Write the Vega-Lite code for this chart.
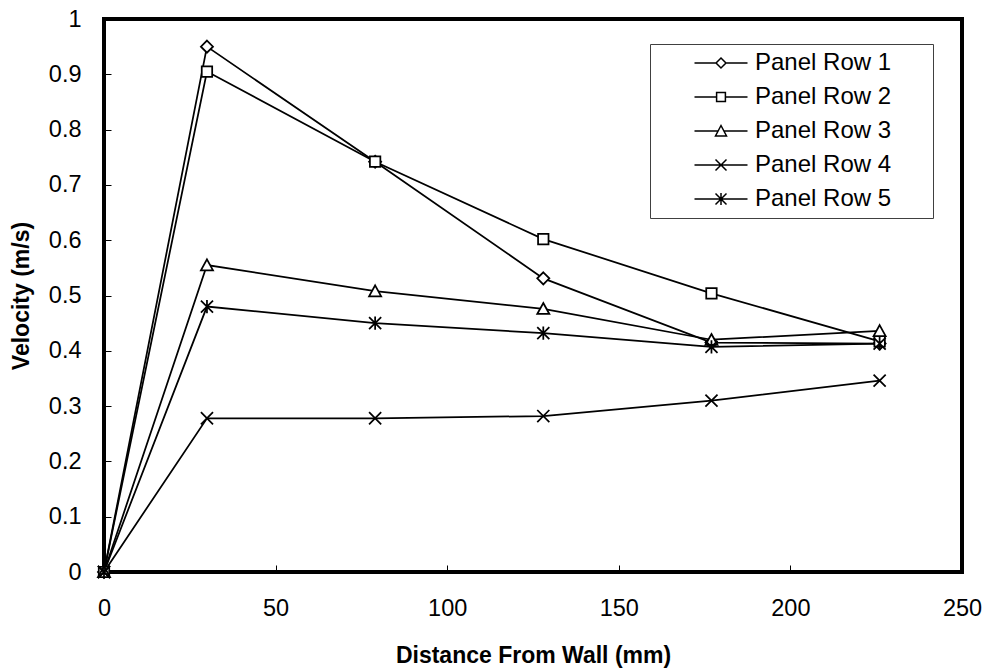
{
  "$schema": "https://vega.github.io/schema/vega-lite/v6.json",
  "autosize": {"type": "none"},
  "padding": {"left": 104, "top": 19, "right": 28, "bottom": 98},
  "width": 858,
  "height": 553,
  "background": "white",
  "config": {
    "view": {"stroke": "black", "strokeWidth": 4},
    "font": "Liberation Sans",
    "axis": {
      "labelFont": "Liberation Sans",
      "labelFontSize": 23.5,
      "labelColor": "black",
      "labelFlush": false,
      "titleFont": "Liberation Sans",
      "titleFontSize": 23,
      "titleFontWeight": "bold",
      "titleColor": "black",
      "domain": false,
      "grid": false,
      "ticks": true,
      "tickColor": "black",
      "tickWidth": 1,
      "tickSize": -7
    }
  },
  "data": {
    "values": [
      {"series": "Panel Row 1", "distance": 0, "velocity": 0},
      {"series": "Panel Row 1", "distance": 30, "velocity": 0.950},
      {"series": "Panel Row 1", "distance": 79, "velocity": 0.742},
      {"series": "Panel Row 1", "distance": 128, "velocity": 0.531},
      {"series": "Panel Row 1", "distance": 177, "velocity": 0.415},
      {"series": "Panel Row 1", "distance": 226, "velocity": 0.413},
      {"series": "Panel Row 2", "distance": 0, "velocity": 0},
      {"series": "Panel Row 2", "distance": 30, "velocity": 0.905},
      {"series": "Panel Row 2", "distance": 79, "velocity": 0.742},
      {"series": "Panel Row 2", "distance": 128, "velocity": 0.602},
      {"series": "Panel Row 2", "distance": 177, "velocity": 0.504},
      {"series": "Panel Row 2", "distance": 226, "velocity": 0.417},
      {"series": "Panel Row 3", "distance": 0, "velocity": 0},
      {"series": "Panel Row 3", "distance": 30, "velocity": 0.555},
      {"series": "Panel Row 3", "distance": 79, "velocity": 0.508},
      {"series": "Panel Row 3", "distance": 128, "velocity": 0.476},
      {"series": "Panel Row 3", "distance": 177, "velocity": 0.420},
      {"series": "Panel Row 3", "distance": 226, "velocity": 0.436},
      {"series": "Panel Row 4", "distance": 0, "velocity": 0},
      {"series": "Panel Row 4", "distance": 30, "velocity": 0.278},
      {"series": "Panel Row 4", "distance": 79, "velocity": 0.278},
      {"series": "Panel Row 4", "distance": 128, "velocity": 0.282},
      {"series": "Panel Row 4", "distance": 177, "velocity": 0.310},
      {"series": "Panel Row 4", "distance": 226, "velocity": 0.346},
      {"series": "Panel Row 5", "distance": 0, "velocity": 0},
      {"series": "Panel Row 5", "distance": 30, "velocity": 0.480},
      {"series": "Panel Row 5", "distance": 79, "velocity": 0.450},
      {"series": "Panel Row 5", "distance": 128, "velocity": 0.432},
      {"series": "Panel Row 5", "distance": 177, "velocity": 0.407},
      {"series": "Panel Row 5", "distance": 226, "velocity": 0.413}
    ]
  },
  "encoding": {
    "x": {
      "field": "distance", "type": "quantitative",
      "scale": {"domain": [0, 250], "nice": false, "zero": true},
      "axis": {"title": "Distance From Wall (mm)", "values": [0, 50, 100, 150, 200, 250], "format": "d", "labelPadding": 31, "titlePadding": 25}
    },
    "y": {
      "field": "velocity", "type": "quantitative",
      "scale": {"domain": [0, 1], "nice": false},
      "axis": {"title": "Velocity (m/s)", "values": [0, 0.1, 0.2, 0.3, 0.4, 0.5, 0.6, 0.7, 0.8, 0.9, 1], "format": "~g", "labelPadding": 30, "titlePadding": 15}
    }
  },
  "resolve": {"scale": {"shape": "independent"}, "legend": {"shape": "independent"}},
  "layer": [
    {
      "mark": {"type": "line", "color": "black", "strokeWidth": 1.75, "clip": false},
      "encoding": {"detail": {"field": "series", "type": "nominal"}}
    },
    {
      "mark": {"type": "point", "filled": false, "fill": "white", "stroke": "black", "strokeWidth": 1.75, "size": 121, "opacity": 1, "clip": false},
      "encoding": {
        "shape": {
          "field": "series", "type": "nominal",
          "scale": {
            "domain": ["Panel Row 1", "Panel Row 2", "Panel Row 3", "Panel Row 4", "Panel Row 5"],
            "range": [
              "M0,-1.1L1.1,0L0,1.1L-1.1,0Z",
              "M-0.95,-0.95H0.95V0.95H-0.95Z",
              "M0,-1.05L1.1,0.95H-1.1Z",
              "M-1.1,-1.1L1.1,1.1M1.1,-1.1L-1.1,1.1",
              "M-1.1,-1.1L1.1,1.1M1.1,-1.1L-1.1,1.1M0,-1.2V1.2"
            ]
          },
          "legend": null
        }
      }
    },
    {
      "transform": [{"filter": "datum.velocity > 5"}],
      "mark": {"type": "point", "filled": false, "fill": "white", "stroke": "black", "strokeWidth": 1.75, "size": 121, "opacity": 1, "clip": false},
      "encoding": {
        "shape": {
          "field": "series", "type": "nominal",
          "scale": {
            "domain": ["Panel Row 1", "Panel Row 2", "Panel Row 3", "Panel Row 4", "Panel Row 5"],
            "range": [
              "M0,-0.9L0.9,0L0,0.9L-0.9,0ZM-4.82,0H-0.9M0.9,0H4.82M36.6,0",
              "M-0.8,-0.8H0.8V0.8H-0.8ZM-4.82,0H-0.8M0.8,0H4.82M36.6,0",
              "M0,-1L1,0.9H-1ZM-4.82,0H-0.5M0.5,0H4.82M36.6,0",
              "M-1,-1L1,1M1,-1L-1,1M-4.82,0H4.82M36.6,0",
              "M-1,-1L1,1M1,-1L-1,1M0,-1.1V1.1M-4.82,0H4.82M36.6,0"
            ]
          },
          "legend": {
            "title": null,
            "orient": "none",
            "legendX": 546,
            "legendY": 25,
            "padding": 7,
            "rowPadding": 10,
            "fillColor": "white",
            "strokeColor": "#404040",
            "labelFont": "Liberation Sans",
            "labelFontSize": 24,
            "labelColor": "black",
            "symbolSize": 121,
            "symbolOffset": 52,
            "labelOffset": 22,
            "encode": {
              "symbols": {
                "fill": {"value": "white"},
                "stroke": {"value": "black"},
                "strokeWidth": {"value": 1.75},
                "opacity": {"value": 1},
                "fillOpacity": {"value": 1},
                "strokeOpacity": {"value": 1}
              }
            }
          }
        }
      }
    }
  ]
}
